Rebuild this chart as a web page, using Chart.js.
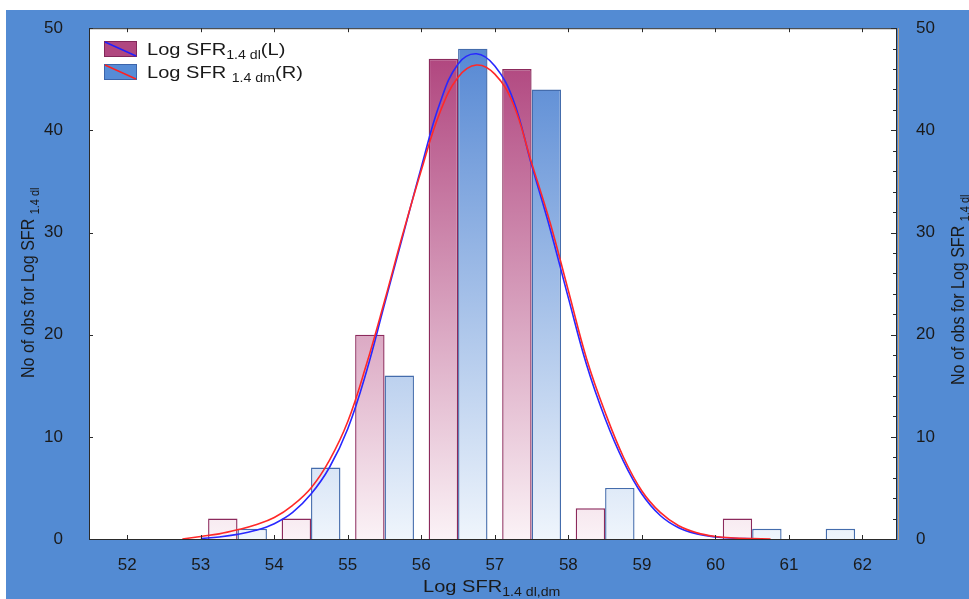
<!DOCTYPE html>
<html>
<head>
<meta charset="utf-8">
<script src="https://cdn.jsdelivr.net/npm/chart.js"></script>
<style>
  html, body { margin: 0; padding: 0; background: #fff; }
  canvas { display: block; }
</style>
</head>
<body>
<canvas id="hist" width="969" height="599"></canvas>
<script>
// histogram bins (centre of each bin) and counts
const binCenters = [53.5, 54.5, 55.5, 56.5, 57.5, 58.5, 59.5, 60.5, 61.5];
const dlCounts = [2, 2, 20, 47, 46, 3, 0, 2, 0];
const dmCounts = [1, 7, 16, 48, 44, 5, 0, 1, 1];

// fitted curves
const curveX = [52.75, 53, 53.25, 53.5, 53.75, 54, 54.25, 54.5, 54.75, 55, 55.25, 55.5, 55.75, 56,
  56.25, 56.5, 56.75, 57, 57.25, 57.5, 57.75, 58, 58.25, 58.5, 58.75, 59, 59.25, 59.5, 59.75, 60,
  60.25, 60.5, 60.75];
const dlFit = [null, 0.05, 0.2, 0.45, 0.85, 1.5, 2.6, 4.4, 7.0, 10.8, 16.3, 23.0, 29.7, 36.4,
  42.6, 46.5, 47.5, 46.3, 43.0, 36.6, 30.4, 23.6, 17.0, 11.8, 7.6, 4.4, 2.3, 1.1, 0.5, 0.2,
  0.08, 0.03, null];
const dmFit = [0, 0.25, 0.5, 0.9, 1.4, 2.1, 3.3, 5.0, 7.7, 11.5, 17.0, 23.3, 29.9, 36.1,
  41.7, 45.2, 46.4, 45.5, 42.6, 36.8, 31.0, 24.3, 17.6, 12.4, 8.0, 4.7, 2.6, 1.3, 0.6, 0.25,
  0.1, 0.04, 0];

const xTicks = [52, 53, 54, 55, 56, 57, 58, 59, 60, 61, 62];
const yTicks = [0, 10, 20, 30, 40, 50];

const FONT = "'Liberation Sans', Arial, sans-serif";
const BLUE_BG = '#538bd3';

function grad(chart, top, bottom) {
  const a = chart.chartArea;
  if (!a) return top;
  const g = chart.ctx.createLinearGradient(0, a.top, 0, a.bottom);
  g.addColorStop(0, top);
  g.addColorStop(1, bottom);
  return g;
}

// text with a subscript part, optionally rotated, stretched a bit sideways
function drawParts(ctx, x, y, parts, sx, rot) {
  ctx.save();
  ctx.translate(x, y);
  ctx.scale(sx, 1);
  if (rot) ctx.rotate(rot);
  ctx.fillStyle = '#1a1a1a';
  ctx.textBaseline = 'alphabetic';
  ctx.textAlign = 'left';
  let cx = 0;
  for (const p of parts) {
    ctx.font = p.size + 'px ' + FONT;
    ctx.fillText(p.t, cx, p.dy || 0);
    cx += ctx.measureText(p.t).width;
  }
  ctx.restore();
}

const frame = {
  id: 'frame',
  beforeDraw(chart) {
    const ctx = chart.ctx, a = chart.chartArea;
    ctx.save();
    ctx.fillStyle = '#fff';
    ctx.fillRect(0, 0, chart.width, chart.height);
    ctx.fillStyle = BLUE_BG;
    ctx.fillRect(6, 10, chart.width - 6, chart.height - 10);
    ctx.fillStyle = '#fff';
    ctx.fillRect(a.left, a.top, a.right - a.left, a.bottom - a.top);
    ctx.restore();
  },
  afterDraw(chart) {
    const ctx = chart.ctx, a = chart.chartArea;
    const sx = chart.scales.x, sy = chart.scales.y, sy2 = chart.scales.y2;
    ctx.save();
    ctx.strokeStyle = '#2a2a2a';
    ctx.lineWidth = 1;
    ctx.strokeRect(a.left + 0.5, a.top + 0.5, a.right - a.left - 1, a.bottom - a.top);
    ctx.strokeStyle = '#c9a070';
    ctx.beginPath();
    ctx.moveTo(a.right + 1.5, a.top);
    ctx.lineTo(a.right + 1.5, a.bottom + 1);
    ctx.stroke();
    ctx.strokeStyle = '#2a2a2a';
    ctx.beginPath();
    xTicks.forEach(v => {
      const px = Math.round(sx.getPixelForValue(v)) + 0.5;
      ctx.moveTo(px, a.top); ctx.lineTo(px, a.top + 4);
      ctx.moveTo(px, a.bottom); ctx.lineTo(px, a.bottom - 4);
    });
    yTicks.forEach(v => {
      const py = Math.round(sy.getPixelForValue(v)) + 0.5;
      ctx.moveTo(a.left, py); ctx.lineTo(a.left + 4, py);
    });
    for (let v = 0; v <= 50; v += 2) {
      const py = Math.round(sy2.getPixelForValue(v)) + 0.5;
      ctx.moveTo(a.right, py); ctx.lineTo(a.right - (v % 10 === 0 ? 6 : 4), py);
    }
    ctx.stroke();

    // legend
    const boxes = [
      { y: 41, fill: 'rgb(176,72,128)', edge: 'rgb(130,40,90)', line: '#2020ff',
        parts: [{ t: 'Log SFR', size: 17 }, { t: '1.4 dl', size: 12, dy: 3.5 }, { t: '(L)', size: 17 }] },
      { y: 64, fill: 'rgb(86,140,214)', edge: 'rgb(60,100,170)', line: '#ff2020',
        parts: [{ t: 'Log SFR ', size: 17 }, { t: '1.4 dm', size: 12, dy: 3.5 }, { t: '(R)', size: 17 }] }
    ];
    boxes.forEach(b => {
      ctx.fillStyle = b.fill;
      ctx.fillRect(104, b.y, 33, 16);
      ctx.strokeStyle = b.edge;
      ctx.lineWidth = 1;
      ctx.strokeRect(104.5, b.y + 0.5, 32, 15);
      ctx.strokeStyle = b.line;
      ctx.lineWidth = 1.4;
      ctx.beginPath();
      ctx.moveTo(105, b.y + 1); ctx.lineTo(136, b.y + 15);
      ctx.stroke();
      drawParts(ctx, 147, b.y + 14, b.parts, 1.18);
    });

    // axis titles
    drawParts(ctx, 423, 592, [{ t: 'Log SFR', size: 17 }, { t: '1.4 dl,dm', size: 12, dy: 4 }], 1.18);
    const yTitle = [{ t: 'No of obs for Log SFR ', size: 16 }, { t: '1.4 dl', size: 11, dy: 4 }];
    drawParts(ctx, 34, 378, yTitle, 1.15, -Math.PI / 2);
    drawParts(ctx, 964, 385, yTitle, 1.15, -Math.PI / 2);
    ctx.restore();
  }
};

const tickFont = { family: FONT, size: 17 };

new Chart(document.getElementById('hist'), {
  type: 'bar',
  data: {
    datasets: [
      {
        type: 'line',
        label: 'dm fit',
        data: curveX.map((x, i) => ({ x: x, y: dmFit[i] })),
        borderColor: 'rgb(255,40,40)',
        borderWidth: 1.6,
        pointRadius: 0,
        tension: 0.4,
        order: 0
      },
      {
        type: 'line',
        label: 'dl fit',
        data: curveX.map((x, i) => ({ x: x, y: dlFit[i] })),
        borderColor: 'rgb(40,40,255)',
        borderWidth: 1.6,
        pointRadius: 0,
        tension: 0.4,
        order: 1
      },
      {
        label: 'Log SFR 1.4 dl (L)',
        data: binCenters.map((x, i) => ({ x: x, y: dlCounts[i] || null })),
        backgroundColor: c => grad(c.chart, 'rgb(172,60,120)', 'rgb(251,242,246)'),
        borderColor: 'rgb(140,42,92)',
        borderWidth: 1.4,
        categoryPercentage: 0.8,
        barPercentage: 1.0,
        order: 2
      },
      {
        label: 'Log SFR 1.4 dm (R)',
        data: binCenters.map((x, i) => ({ x: x, y: dmCounts[i] || null })),
        backgroundColor: c => grad(c.chart, 'rgb(80,132,210)', 'rgb(239,245,252)'),
        borderColor: 'rgb(68,108,172)',
        borderWidth: 1.4,
        categoryPercentage: 0.8,
        barPercentage: 1.0,
        order: 2
      }
    ]
  },
  options: {
    responsive: false,
    animation: false,
    layout: { padding: { top: 25, left: 0, right: 0, bottom: 0 } },
    plugins: {
      legend: { display: false },
      tooltip: { enabled: false }
    },
    scales: {
      x: {
        type: 'linear',
        min: 51.48,
        max: 62.47,
        offset: false,
        grid: { display: false },
        border: { display: false },
        ticks: { padding: 8, font: tickFont, color: '#1a1a1a' },
        afterBuildTicks: s => { s.ticks = xTicks.map(v => ({ value: v })); },
        afterFit: s => { s.height = 60; }
      },
      y: {
        position: 'left',
        min: 0,
        max: 50,
        grid: { display: false },
        border: { display: false },
        ticks: { stepSize: 10, padding: 18, font: tickFont, color: '#1a1a1a' },
        afterFit: s => { s.width = 89; }
      },
      y2: {
        position: 'right',
        min: 0,
        max: 50,
        grid: { display: false },
        border: { display: false },
        ticks: { stepSize: 10, padding: 11, font: tickFont, color: '#1a1a1a' },
        afterFit: s => { s.width = 72; }
      }
    }
  },
  plugins: [frame]
});
</script>
</body>
</html>
